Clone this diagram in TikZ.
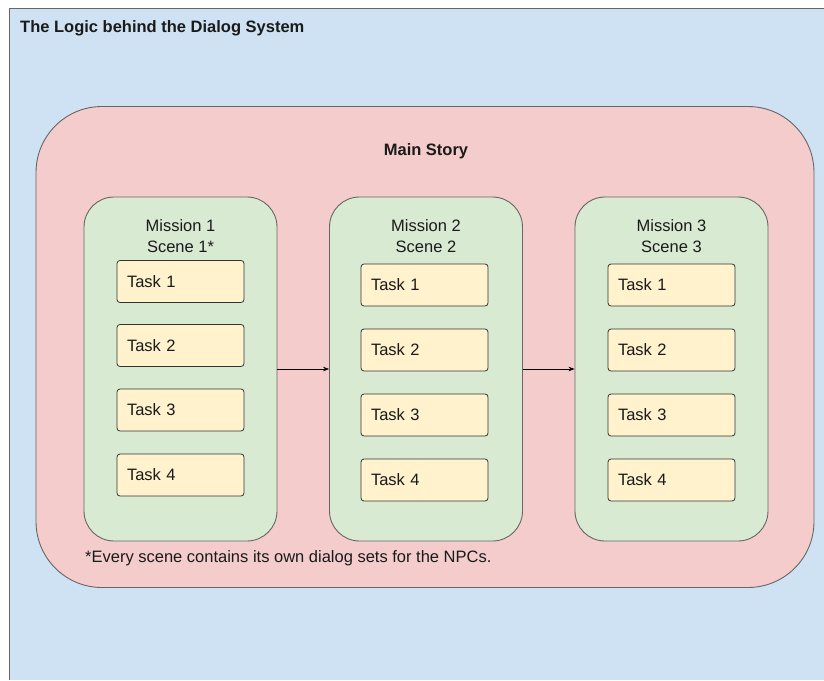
\documentclass[tikz,border=0pt]{standalone}
\usepackage{fontspec}
\setmainfont{Liberation Sans}
\usetikzlibrary{arrows.meta}
\definecolor{bgblue}{HTML}{CFE2F3}
\definecolor{pinkfill}{HTML}{F4CCCC}
\definecolor{greenfill}{HTML}{D9EAD3}
\definecolor{yellowfill}{HTML}{FFF2CC}
\definecolor{edgegray}{HTML}{666666}
\definecolor{taskedge}{HTML}{333333}
\definecolor{txt}{HTML}{1A1A1A}
\tikzset{
  storybox/.style={draw=edgegray, line width=0.9pt, fill=pinkfill, rounded corners=66pt, minimum width=778pt, minimum height=481pt, inner sep=0pt},
  missionbox/.style={draw=edgegray, line width=0.9pt, fill=greenfill, rounded corners=30pt, minimum width=193pt, minimum height=344pt, inner sep=0pt},
  taskbox/.style={draw=taskedge, line width=0.8pt, fill=yellowfill, rounded corners=3pt, minimum width=127pt, minimum height=42pt, text width=107pt, inner xsep=10pt, inner ysep=0pt, align=left, font=\fontsize{16.5}{20}\selectfont, text=txt},
  misslabel/.style={align=center, inner sep=0pt, font=\fontsize{16.5}{21}\selectfont, text=txt},
  boldlabel/.style={inner sep=0pt, font=\fontsize{16.5}{20}\selectfont\bfseries, text=txt},
  plainlabel/.style={inner sep=0pt, font=\fontsize{16.5}{20}\selectfont, text=txt},
  flow/.style={draw=black, line width=0.7pt, -{Stealth[length=6pt,width=4.5pt]}}
}
\begin{document}
\begin{tikzpicture}[x=1pt,y=-1pt]
\useasboundingbox (0,0) rectangle (824,680);
\fill[white] (0,0) rectangle (824,680);
\fill[bgblue] (9,8) rectangle (824,680);
\draw[edgegray, line width=1pt] (9,680) -- (9,8) -- (824,8);
\node[boldlabel, anchor=west] (title) at (20,28) {The Logic behind the Dialog System};

\node[storybox] (story) at (425,347) {};
\node[boldlabel] (storylabel) at (426,151) {Main Story};

\node[missionbox] (m1) at (180.5,369) {};
\node[missionbox] (m2) at (426,369) {};
\node[missionbox] (m3) at (671.5,369) {};

\node[misslabel] (l1) at (180.5,236) {Mission 1\\Scene 1*};
\node[misslabel] (l2) at (426,236) {Mission 2\\Scene 2};
\node[misslabel] (l3) at (671.5,236) {Mission 3\\Scene 3};

\node[taskbox] (a1) at (180.5,281.5) {Task 1};
\node[taskbox] (a2) at (180.5,345.5) {Task 2};
\node[taskbox] (a3) at (180.5,410) {Task 3};
\node[taskbox] (a4) at (180.5,475) {Task 4};

\node[taskbox] (b1) at (424.5,285) {Task 1};
\node[taskbox] (b2) at (424.5,350) {Task 2};
\node[taskbox] (b3) at (424.5,415) {Task 3};
\node[taskbox] (b4) at (424.5,480) {Task 4};

\node[taskbox] (c1) at (671.5,285) {Task 1};
\node[taskbox] (c2) at (671.5,350) {Task 2};
\node[taskbox] (c3) at (671.5,415) {Task 3};
\node[taskbox] (c4) at (671.5,480) {Task 4};

\draw[flow] (m1.east) -- (m2.west);
\draw[flow] (m2.east) -- (m3.west);

\node[plainlabel, anchor=west] (note) at (85,558) {*Every scene contains its own dialog sets for the NPCs.};
\end{tikzpicture}
\end{document}
